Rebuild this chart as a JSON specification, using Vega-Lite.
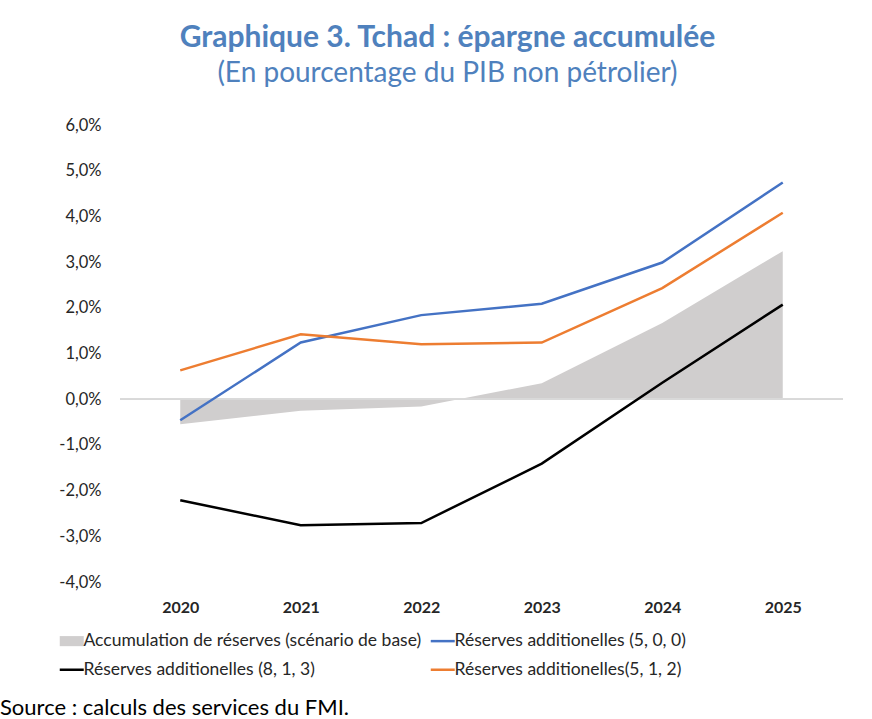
{
  "$schema": "https://vega.github.io/schema/vega-lite/v6.json",
  "padding": {"left": 0, "right": 0, "top": 23, "bottom": 0},
  "background": "white",
  "config": {
    "font": "Lato",
    "view": {"stroke": null},
    "locale": {"number": {"decimal": ",", "thousands": ".", "grouping": [3], "currency": ["", ""], "minus": "-"}}
  },
  "title": {
    "text": "Source : calculs des services du FMI.",
    "orient": "bottom",
    "anchor": "start",
    "frame": "group",
    "font": "Lato",
    "fontSize": 22,
    "fontWeight": "normal",
    "color": "#000000",
    "dx": -120,
    "offset": 19
  },
  "vconcat": [
    {
      "width": 723,
      "height": 457,
      "title": {
        "text": "Graphique 3. Tchad : épargne accumulée",
        "subtitle": "(En pourcentage du PIB non pétrolier)",
        "font": "Lato",
        "fontSize": 30,
        "fontWeight": "bold",
        "color": "#4f81bd",
        "subtitleFont": "Lato",
        "subtitleFontSize": 28,
        "subtitleColor": "#4f81bd",
        "subtitlePadding": 7,
        "anchor": "middle",
        "frame": "group",
        "dx": -34,
        "offset": 29
      },
      "data": {
        "values": [
          {"year": "2020", "series": "Accumulation de réserves (scénario de base)", "value": -0.55},
          {"year": "2021", "series": "Accumulation de réserves (scénario de base)", "value": -0.25},
          {"year": "2022", "series": "Accumulation de réserves (scénario de base)", "value": -0.16},
          {"year": "2023", "series": "Accumulation de réserves (scénario de base)", "value": 0.35},
          {"year": "2024", "series": "Accumulation de réserves (scénario de base)", "value": 1.67},
          {"year": "2025", "series": "Accumulation de réserves (scénario de base)", "value": 3.24},
          {"year": "2020", "series": "Réserves additionelles (5, 0, 0)", "value": -0.46},
          {"year": "2021", "series": "Réserves additionelles (5, 0, 0)", "value": 1.24},
          {"year": "2022", "series": "Réserves additionelles (5, 0, 0)", "value": 1.84},
          {"year": "2023", "series": "Réserves additionelles (5, 0, 0)", "value": 2.09},
          {"year": "2024", "series": "Réserves additionelles (5, 0, 0)", "value": 2.99},
          {"year": "2025", "series": "Réserves additionelles (5, 0, 0)", "value": 4.74},
          {"year": "2020", "series": "Réserves additionelles (8, 1, 3)", "value": -2.21},
          {"year": "2021", "series": "Réserves additionelles (8, 1, 3)", "value": -2.76},
          {"year": "2022", "series": "Réserves additionelles (8, 1, 3)", "value": -2.71},
          {"year": "2023", "series": "Réserves additionelles (8, 1, 3)", "value": -1.41},
          {"year": "2024", "series": "Réserves additionelles (8, 1, 3)", "value": 0.36},
          {"year": "2025", "series": "Réserves additionelles (8, 1, 3)", "value": 2.07},
          {"year": "2020", "series": "Réserves additionelles(5, 1, 2)", "value": 0.63},
          {"year": "2021", "series": "Réserves additionelles(5, 1, 2)", "value": 1.42},
          {"year": "2022", "series": "Réserves additionelles(5, 1, 2)", "value": 1.2},
          {"year": "2023", "series": "Réserves additionelles(5, 1, 2)", "value": 1.24},
          {"year": "2024", "series": "Réserves additionelles(5, 1, 2)", "value": 2.43},
          {"year": "2025", "series": "Réserves additionelles(5, 1, 2)", "value": 4.08}
        ]
      },
      "layer": [
        {
          "transform": [{"filter": "datum.series === 'Accumulation de réserves (scénario de base)'"}],
          "mark": {"type": "area", "color": "#d0cece", "opacity": 1},
          "encoding": {
            "x": {
              "field": "year",
              "type": "ordinal",
              "scale": {"type": "point", "padding": 0.5},
              "axis": {
                "title": null,
                "labelAngle": 0,
                "domain": false,
                "ticks": false,
                "labelPadding": 17,
                "labelFontSize": 16,
                "labelFontWeight": "bold",
                "labelColor": "#262626"
              }
            },
            "y": {
              "field": "value",
              "type": "quantitative",
              "scale": {"domain": [-4, 6], "nice": false, "zero": false},
              "axis": {
                "title": null,
                "values": [-4, -3, -2, -1, 0, 1, 2, 3, 4, 5, 6],
                "format": ".1f",
                "labelExpr": "datum.label + '%'",
                "domain": false,
                "ticks": false,
                "grid": false,
                "labelPadding": 19,
                "labelFontSize": 16.5,
                "labelColor": "#262626"
              }
            },
            "y2": {"datum": 0}
          }
        },
        {
          "mark": {"type": "rule", "color": "#d9d9d9", "strokeWidth": 1.5},
          "encoding": {"y": {"datum": 0, "type": "quantitative"}}
        },
        {
          "transform": [{"filter": "datum.series !== 'Accumulation de réserves (scénario de base)'"}],
          "mark": {"type": "line", "strokeWidth": 2.5},
          "encoding": {
            "x": {"field": "year", "type": "ordinal"},
            "y": {"field": "value", "type": "quantitative"},
            "color": {
              "field": "series",
              "type": "nominal",
              "scale": {
                "domain": [
                  "Accumulation de réserves (scénario de base)",
                  "Réserves additionelles (5, 0, 0)",
                  "Réserves additionelles (8, 1, 3)",
                  "Réserves additionelles(5, 1, 2)"
                ],
                "range": ["#d0cece", "#4472c4", "#000000", "#ed7d31"]
              },
              "legend": {
                "title": null,
                "orient": "none",
                "legendX": -57,
                "legendY": 507,
                "direction": "horizontal",
                "columns": 2,
                "columnPadding": 3,
                "rowPadding": 10,
                "symbolType": "stroke",
                "symbolSize": 576,
                "symbolStrokeWidth": 2.5,
                "labelFontSize": 17.5,
                "labelColor": "#262626",
                "labelOffset": 3,
                "labelLimit": 0,
                "encode": {
                  "symbols": {
                    "update": {
                      "shape": {"signal": "datum.index === 0 ? 'M-1,-0.42H1V0.42H-1Z' : 'stroke'"},
                      "fill": {"signal": "datum.index === 0 ? '#d0cece' : 'transparent'"},
                      "strokeWidth": {"signal": "datum.index === 0 ? 0 : 2.5"}
                    }
                  }
                }
              }
            }
          }
        }
      ]
    }
  ]
}
